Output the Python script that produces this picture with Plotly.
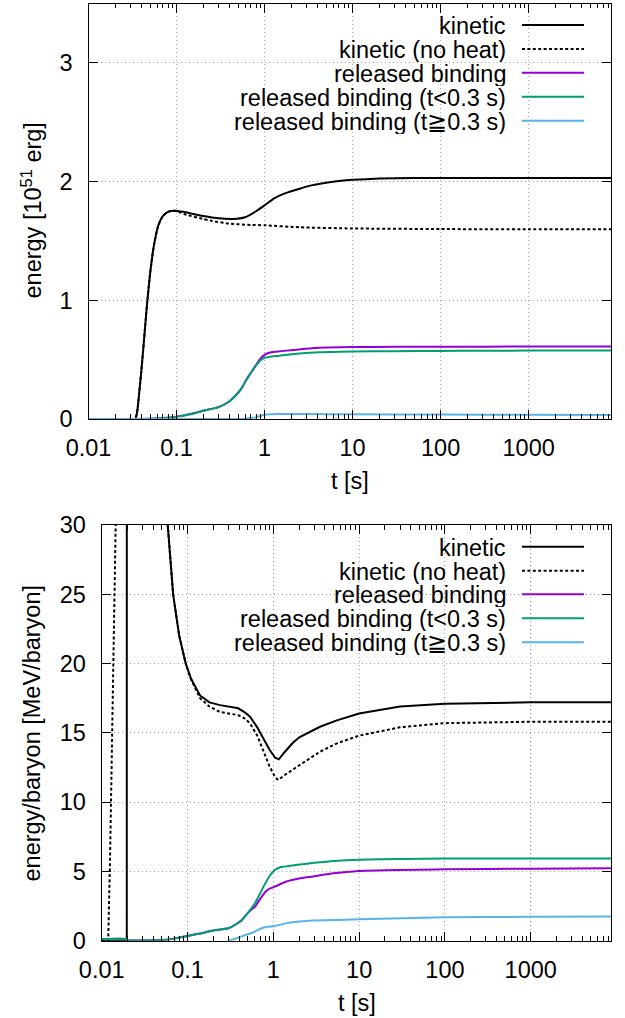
import plotly.graph_objects as go

# ---------------- data: top panel (energy, 10^51 erg) ----------------
t_kin_top = [0.01, 0.02, 0.03, 0.034, 0.036, 0.038, 0.040, 0.042, 0.044, 0.046, 0.050, 0.055,
             0.062, 0.070, 0.080, 0.095, 0.12, 0.16, 0.22, 0.30, 0.44, 0.60, 0.80, 1.0, 1.3,
             1.7, 2.5, 3.5, 5, 7, 10, 20, 50, 100, 300, 1000, 3000, 8600]
e_kin_top = [0, 0, 0, 0, 0.08, 0.25, 0.42, 0.60, 0.78, 0.95, 1.22, 1.45,
             1.63, 1.71, 1.745, 1.755, 1.745, 1.725, 1.705, 1.69, 1.685, 1.70, 1.75, 1.80, 1.86,
             1.90, 1.94, 1.97, 1.99, 2.005, 2.015, 2.025, 2.03, 2.03, 2.03, 2.03, 2.03, 2.03]

t_noh_top = [0.01, 0.02, 0.03, 0.034, 0.036, 0.038, 0.040, 0.042, 0.044, 0.046, 0.050, 0.055,
             0.062, 0.070, 0.080, 0.095, 0.13, 0.20, 0.24, 0.40, 0.70, 1.0, 2.5, 10, 100, 1000, 8600]
e_noh_top = [0, 0, 0, 0, 0.08, 0.25, 0.42, 0.60, 0.78, 0.95, 1.22, 1.45,
             1.63, 1.71, 1.745, 1.755, 1.72, 1.685, 1.672, 1.645, 1.635, 1.632, 1.615, 1.605, 1.600, 1.598, 1.598]

t_rb_top = [0.01, 0.04, 0.06, 0.10, 0.15, 0.20, 0.30, 0.40, 0.47, 0.55, 0.62, 0.70, 0.80, 0.90,
            1.0, 1.15, 1.35, 2.0, 4.2, 10, 30, 100, 1000, 8600]
e_rb_top = [0, 0, 0.005, 0.02, 0.045, 0.07, 0.10, 0.15, 0.20, 0.26, 0.33, 0.39, 0.455, 0.51,
            0.54, 0.56, 0.567, 0.58, 0.60, 0.606, 0.608, 0.609, 0.61, 0.61]

t_early_top = [0.01, 0.04, 0.06, 0.10, 0.15, 0.20, 0.30, 0.40, 0.47, 0.55, 0.62, 0.70, 0.80, 0.90,
               1.0, 1.15, 1.35, 2.0, 4.2, 10, 30, 100, 300, 1000, 3000, 8600]
e_early_top = [0, 0, 0.005, 0.02, 0.045, 0.07, 0.10, 0.15, 0.20, 0.26, 0.33, 0.39, 0.45, 0.495,
               0.515, 0.525, 0.53, 0.545, 0.562, 0.568, 0.571, 0.573, 0.575, 0.576, 0.576, 0.576]

t_late_top = [0.01, 0.5, 0.6, 0.7, 0.8, 0.9, 1.0, 1.15, 1.5, 3, 10, 100, 1000, 8600]
e_late_top = [0, 0, 0.003, 0.008, 0.015, 0.025, 0.035, 0.04, 0.042, 0.042, 0.04, 0.037, 0.035, 0.034]

# ---------------- data: bottom panel (MeV/baryon) ----------------
t_kin_bot = [0.01, 0.0196, 0.0197, 0.03, 0.045, 0.0588, 0.068, 0.08, 0.0953, 0.11, 0.14, 0.18,
             0.24, 0.32, 0.39, 0.46, 0.535, 0.65, 0.765, 0.9, 1.05, 1.16, 1.35, 1.7, 2.03, 3.5,
             5.5, 10, 30, 100, 1000, 8600]
e_kin_bot = [0, 0, 200, 90, 42, 30, 25, 22, 20, 18.9, 17.7, 17.2,
             17.0, 16.85, 16.77, 16.5, 16.16, 15.4, 14.6, 13.8, 13.2, 13.09, 13.6, 14.3, 14.7, 15.44,
             15.9, 16.4, 16.9, 17.1, 17.2, 17.2]

t_noh_bot = [0.01, 0.0119, 0.0125, 0.01365, 0.01456, 0.0155, 0.018, 0.03, 0.045, 0.0588, 0.068, 0.08,
             0.0953, 0.11, 0.14, 0.18, 0.24, 0.32, 0.39, 0.46, 0.535, 0.65, 0.765, 0.9, 1.05, 1.14,
             1.35, 1.7, 2.03, 3.5, 5.5, 10, 30, 100, 1000, 8600]
e_noh_bot = [0, 0, 5.8, 20, 30, 40, 120, 90, 42, 30, 25, 22,
             20, 18.85, 17.5, 16.9, 16.5, 16.35, 16.28, 16.05, 15.68, 14.8, 13.76, 12.6, 11.8, 11.6,
             11.95, 12.4, 12.68, 13.64, 14.24, 14.8, 15.4, 15.7, 15.8, 15.8]

t_rb_bot = [0.01, 0.0196, 0.0200, 0.05, 0.07, 0.10, 0.15, 0.19, 0.25, 0.30, 0.36, 0.43, 0.52,
            0.61, 0.70, 0.80, 0.90, 1.04, 1.4, 2.05, 3.0, 5, 10, 100, 1000, 8600]
e_rb_bot = [0.12, 0.12, 0.03, 0.05, 0.15, 0.34, 0.55, 0.72, 0.82, 0.90, 1.15, 1.5, 2.1,
            2.45, 3.0, 3.5, 3.75, 3.9, 4.25, 4.5, 4.65, 4.86, 5.03, 5.15, 5.2, 5.22]

t_early_bot = [0.01, 0.0196, 0.0200, 0.05, 0.07, 0.10, 0.15, 0.19, 0.25, 0.30, 0.36, 0.43, 0.52,
               0.61, 0.70, 0.80, 0.90, 1.04, 1.2, 1.8, 3.0, 5, 10, 30, 100, 1000, 8600]
e_early_bot = [0.12, 0.12, 0.03, 0.05, 0.15, 0.34, 0.55, 0.72, 0.82, 0.90, 1.15, 1.5, 2.1,
               2.7, 3.4, 4.1, 4.65, 5.1, 5.3, 5.46, 5.62, 5.75, 5.85, 5.9, 5.93, 5.94, 5.94]

t_late_bot = [0.30, 0.38, 0.47, 0.585, 0.73, 0.85, 1.04, 1.4, 1.8, 3.0, 10, 100, 1000, 8600]
e_late_bot = [0, 0.2, 0.41, 0.6, 0.9, 1.0, 1.06, 1.25, 1.35, 1.45, 1.54, 1.69, 1.72, 1.75]

# ---------------- labels ----------------
x_tickvals = [0.01, 0.1, 1, 10, 100, 1000]
x_ticktext = ["0.01", "0.1", "1", "10", "100", "1000"]
x_minor = [m * 10 ** k for k in range(-2, 4) for m in range(2, 10)]
series_names = ["kinetic", "kinetic (no heat)", "released binding",
                "released binding (t<0.3 s)", "released binding (t\u22670.3 s)"]
series_colors = ["#000000", "#000000", "#9400d3", "#009e73", "#56b4e9"]
series_dash = ["solid", "3px,2.4px", "solid", "solid", "solid"]
top_series = [(t_kin_top, e_kin_top), (t_noh_top, e_noh_top), (t_rb_top, e_rb_top),
              (t_early_top, e_early_top), (t_late_top, e_late_top)]
bot_series = [(t_kin_bot, e_kin_bot), (t_noh_bot, e_noh_bot), (t_rb_bot, e_rb_bot),
              (t_early_bot, e_early_bot), (t_late_bot, e_late_bot)]
bot_shape = ["linear", "linear", "spline", "spline", "spline"]

W, H = 625, 1018
FONT = "Liberation Sans, Arial, Helvetica, sans-serif"


def px(x):
    return x / W


def py(y):
    return 1 - y / H


fig = go.Figure()
for i, (tt, ee) in enumerate(top_series):
    fig.add_trace(go.Scatter(x=tt, y=ee, mode="lines", name=series_names[i], showlegend=False,
                             line=dict(color=series_colors[i], width=2, dash=series_dash[i],
                                       shape="spline", smoothing=0.5),
                             xaxis="x", yaxis="y"))
for i, (tt, ee) in enumerate(bot_series):
    fig.add_trace(go.Scatter(x=tt, y=ee, mode="lines", name=series_names[i], showlegend=False,
                             line=dict(color=series_colors[i], width=2, dash=series_dash[i],
                                       shape=bot_shape[i], smoothing=0.4),
                             xaxis="x2", yaxis="y2"))

common_x = dict(type="log", range=[-2, 3.935], tickmode="array", tickvals=x_tickvals,
                ticktext=x_ticktext, ticks="inside", ticklen=9, tickwidth=1, tickcolor="black",
                mirror="allticks", showline=True, linecolor="black", linewidth=1.3,
                showgrid=True, gridcolor="#a8a8a8", griddash="1px,3px", gridwidth=1,
                zeroline=False, tickfont=dict(size=23.5, color="black", family=FONT),
                ticklabelstandoff=8, automargin=False,
                minor=dict(tickmode="array", tickvals=x_minor, ticks="inside", ticklen=4.5,
                           tickwidth=1, tickcolor="black", showgrid=False))
common_y = dict(ticks="inside", ticklen=9, tickwidth=1, tickcolor="black",
                mirror="allticks", showline=True, linecolor="black", linewidth=1.3,
                showgrid=True, gridcolor="#a8a8a8", griddash="1px,3px", gridwidth=1,
                zeroline=False, tickfont=dict(size=23.5, color="black", family=FONT),
                ticklabelstandoff=10, automargin=False)

fig.update_layout(
    template="none",
    width=W, height=H, margin=dict(l=0, r=0, t=0, b=0, autoexpand=False),
    paper_bgcolor="white", plot_bgcolor="white",
    font=dict(family=FONT, size=23, color="black"),
    xaxis=dict(common_x, domain=[px(88.5), px(611)], anchor="y"),
    yaxis=dict(common_y, domain=[py(419), py(3.5)], anchor="x", range=[0, 3.5],
               tickmode="array", tickvals=[0, 1, 2, 3]),
    xaxis2=dict(common_x, domain=[px(101.7), px(611)], anchor="y2"),
    yaxis2=dict(common_y, domain=[py(940.7), py(525)], anchor="x2", range=[0, 30],
                tickmode="array", tickvals=[0, 5, 10, 15, 20, 25, 30]),
)

shapes = []
annotations = []
# opaque key boxes (between grid and data)
for (y0, y1) in [(3.5, 133), (525, 653)]:
    shapes.append(dict(type="rect", xref="paper", yref="paper", x0=px(133), x1=px(610),
                       y0=py(y1), y1=py(y0), fillcolor="white", line=dict(width=0),
                       layer="between"))
# keys
for rows in [[25, 49, 72.7, 96.7, 120.7], [546.7, 570.7, 594.3, 618.3, 642.3]]:
    for i, yr in enumerate(rows):
        annotations.append(dict(text=series_names[i], xref="paper", yref="paper", x=px(508),
                                y=py(yr + 1), xanchor="right", yanchor="middle", showarrow=False,
                                height=24, valign="middle",
                                font=dict(size=23.5, family=FONT, color="black")))
        shapes.append(dict(type="line", xref="paper", yref="paper", x0=px(522), x1=px(584),
                           y0=py(yr), y1=py(yr),
                           line=dict(color=series_colors[i], width=2, dash=series_dash[i])))

# axis titles
annotations += [
    dict(text="energy [10<sup>51</sup> erg]", xref="paper", yref="paper", x=px(31.5), y=py(211),
         textangle=-90, showarrow=False, xanchor="center", yanchor="middle",
         font=dict(size=23.5, family=FONT, color="black")),
    dict(text="t [s]", xref="paper", yref="paper", x=px(350), y=py(481),
         showarrow=False, xanchor="center", yanchor="middle",
         font=dict(size=23.5, family=FONT, color="black")),
    dict(text="energy/baryon [MeV/baryon]", xref="paper", yref="paper", x=px(31.5), y=py(733),
         textangle=-90, showarrow=False, xanchor="center", yanchor="middle",
         font=dict(size=23.5, family=FONT, color="black")),
    dict(text="t [s]", xref="paper", yref="paper", x=px(356.5), y=py(1003),
         showarrow=False, xanchor="center", yanchor="middle",
         font=dict(size=23.5, family=FONT, color="black")),
]
fig.update_layout(shapes=shapes, annotations=annotations)
fig.write_html("out.html")
